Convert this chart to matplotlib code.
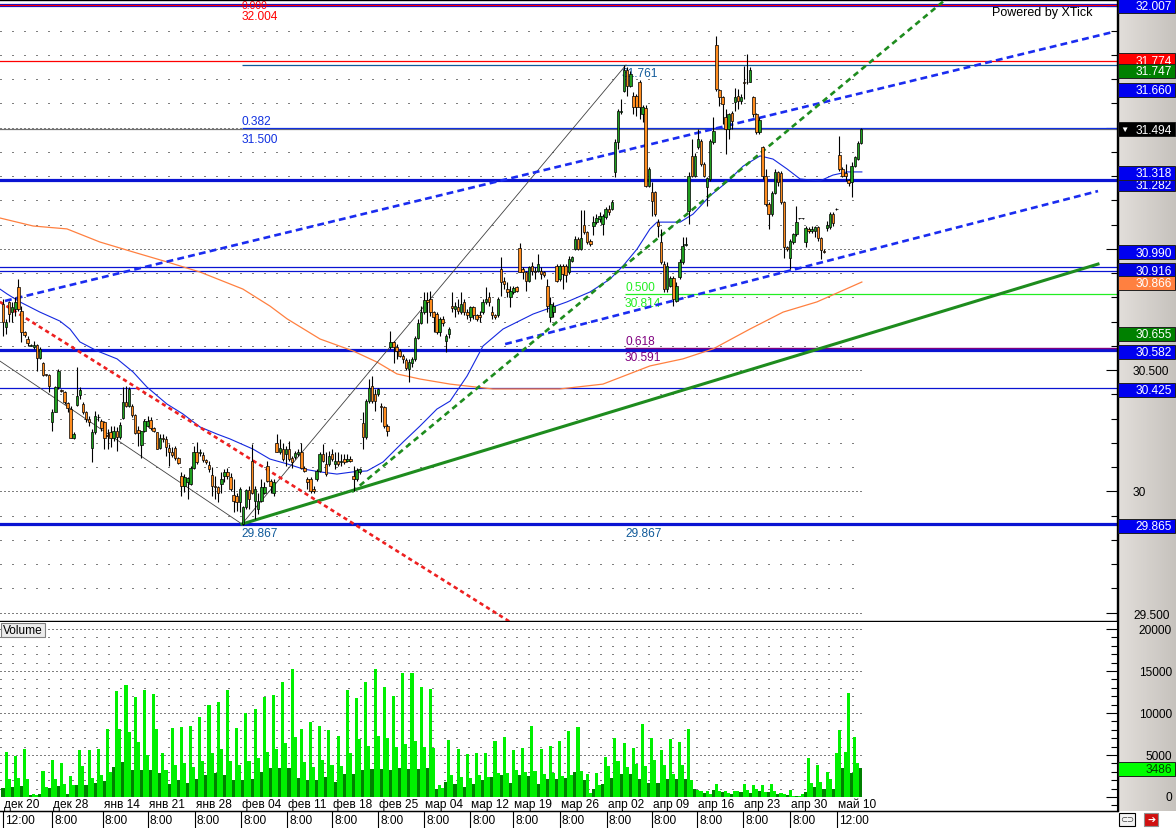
import matplotlib
matplotlib.use("Agg")
import matplotlib.pyplot as plt
from matplotlib.patches import Rectangle
from matplotlib.ticker import MultipleLocator
import numpy as np

plt.rcParams["font.family"] = ["Liberation Sans", "DejaVu Sans"]

# ---------------- data ----------------
opens = [
    30.773, 30.676, 30.780, 30.738, 30.752, 30.841, 30.745, 30.656, 30.630, 30.601,
    30.594, 30.603, 30.548, 30.528, 30.482, 30.480, 30.284, 30.329, 30.429, 30.417,
    30.408, 30.363, 30.340, 30.219, 30.356, 30.397, 30.360, 30.326, 30.298, 30.177,
    30.243, 30.307, 30.290, 30.284, 30.232, 30.243, 30.219, 30.250, 30.223, 30.301,
    30.367, 30.353, 30.353, 30.315, 30.254, 30.191, 30.247, 30.271, 30.295, 30.260,
    30.243, 30.177, 30.221, 30.216, 30.177, 30.160, 30.177, 30.136, 30.064, 30.023,
    30.037, 30.030, 30.095, 30.164, 30.158, 30.150, 30.131, 30.110, 30.067, 30.023,
    30.016, 30.030, 30.062, 30.081, 30.060,
    29.984, 29.982, 29.957, 29.865, 29.936, 30.006, 30.126, 29.961, 29.927, 29.961,
    29.995, 30.105, 30.043, 29.995, 30.201, 30.160, 30.174, 30.153, 30.174, 30.136,
    30.140, 30.152, 30.160, 30.098, 30.050, 30.050, 30.009, 30.050, 30.085, 30.153,
    30.112, 30.112, 30.153, 30.112, 30.126, 30.119, 30.133, 30.126, 30.135, 30.064,
    30.050, 30.078, 30.281, 30.222, 30.373, 30.435, 30.401, 30.401, 30.353, 30.346,
    30.270,
    30.593, 30.614, 30.593, 30.579, 30.559, 30.540, 30.504, 30.531, 30.545, 30.634,
    30.696, 30.738, 30.790, 30.793, 30.738, 30.731, 30.655, 30.710, 30.621, 30.648,
    30.766, 30.752, 30.759, 30.738, 30.780, 30.738, 30.718, 30.759, 30.725, 30.725,
    30.738, 30.780, 30.800, 30.738, 30.725, 30.725, 30.917, 30.869, 30.835, 30.800,
    30.821, 30.841, 31.002, 30.917, 30.903, 30.869, 30.931, 30.910, 30.910, 30.910,
    30.903, 30.848, 30.718, 30.738, 30.931, 30.876, 30.931, 30.931, 30.903, 30.951,
    30.999, 31.041, 30.999, 31.098, 31.068, 31.034, 31.096, 31.109, 31.123, 31.102,
    31.130, 31.164, 31.164, 31.316, 31.439, 31.563, 31.652, 31.739, 31.673, 31.632,
    31.632, 31.687, 31.556, 31.580, 31.261, 31.233, 31.233, 31.109,
    31.026, 30.937, 30.834, 30.848, 30.878, 30.786, 30.882, 30.944, 31.015, 31.157,
    31.384, 31.301, 31.418, 31.446, 31.349, 31.253, 31.287, 31.441, 31.840, 31.656,
    31.624, 31.542, 31.496, 31.562, 31.606, 31.631, 31.610, 31.686, 31.686, 31.689,
    31.624, 31.555, 31.480, 31.418, 31.301, 31.184, 31.143, 31.232, 31.315, 31.312,
    31.191, 31.006, 30.964, 31.026, 31.061, 31.126, 31.127, 31.026, 31.081, 31.074,
    31.074, 31.088, 31.043, 30.992, 31.084, 31.088, 31.143, 31.165, 31.386, 31.329,
    31.312, 31.285, 31.274, 31.342, 31.370, 31.436,
]
highs = [
    30.793, 30.711, 30.786, 30.780, 30.800, 30.876, 30.766, 30.663, 30.640, 30.607,
    30.621, 30.608, 30.594, 30.532, 30.484, 30.482, 30.340, 30.436, 30.505, 30.420,
    30.412, 30.370, 30.353, 30.243, 30.511, 30.429, 30.367, 30.333, 30.312, 30.257,
    30.333, 30.320, 30.300, 30.291, 30.257, 30.271, 30.271, 30.264, 30.284, 30.429,
    30.436, 30.429, 30.360, 30.319, 30.271, 30.250, 30.298, 30.312, 30.305, 30.264,
    30.246, 30.236, 30.236, 30.230, 30.195, 30.181, 30.188, 30.140, 30.078, 30.071,
    30.058, 30.106, 30.188, 30.202, 30.174, 30.161, 30.133, 30.125, 30.099, 30.064,
    30.023, 30.078, 30.092, 30.095, 30.075,
    30.050, 29.995, 30.016, 29.940, 30.009, 30.023, 30.197, 30.023, 29.995, 30.050,
    30.037, 30.126, 30.050, 30.050, 30.236, 30.215, 30.201, 30.188, 30.208, 30.146,
    30.167, 30.174, 30.201, 30.105, 30.057, 30.057, 30.023, 30.092, 30.160, 30.194,
    30.160, 30.167, 30.174, 30.160, 30.160, 30.153, 30.153, 30.153, 30.146, 30.105,
    30.098, 30.098, 30.325, 30.380, 30.463, 30.476, 30.421, 30.428, 30.366, 30.353,
    30.277,
    30.662, 30.621, 30.607, 30.586, 30.566, 30.548, 30.545, 30.552, 30.641, 30.710,
    30.765, 30.820, 30.820, 30.827, 30.744, 30.738, 30.717, 30.724, 30.648, 30.676,
    30.821, 30.780, 30.793, 30.821, 30.793, 30.752, 30.766, 30.766, 30.731, 30.745,
    30.793, 30.841, 30.821, 30.766, 30.731, 30.800, 30.965, 30.883, 30.862, 30.848,
    30.848, 30.848, 31.024, 30.924, 30.910, 30.931, 30.945, 30.924, 30.979, 30.924,
    30.910, 30.876, 30.800, 30.780, 30.938, 30.938, 30.938, 30.938, 30.972, 30.972,
    31.054, 31.048, 31.158, 31.158, 31.075, 31.041, 31.137, 31.144, 31.151, 31.144,
    31.171, 31.180, 31.203, 31.453, 31.577, 31.618, 31.756, 31.749, 31.735, 31.645,
    31.639, 31.694, 31.591, 31.591, 31.336, 31.274, 31.240, 31.123,
    31.081, 30.951, 30.944, 30.889, 30.889, 30.862, 30.958, 31.047, 31.047, 31.315,
    31.452, 31.397, 31.494, 31.452, 31.356, 31.294, 31.452, 31.542, 31.876, 31.661,
    31.631, 31.576, 31.562, 31.569, 31.665, 31.659, 31.638, 31.755, 31.803, 31.748,
    31.631, 31.562, 31.542, 31.425, 31.329, 31.191, 31.239, 31.329, 31.322, 31.322,
    31.198, 31.013, 31.040, 31.067, 31.177, 31.128, 31.129, 31.095, 31.088, 31.095,
    31.095, 31.095, 31.047, 30.999, 31.115, 31.150, 31.150, 31.167, 31.466, 31.336,
    31.349, 31.288, 31.356, 31.384, 31.446, 31.497,
]
lows = [
    30.642, 30.649, 30.697, 30.697, 30.724, 30.745, 30.614, 30.635, 30.600, 30.598,
    30.587, 30.498, 30.546, 30.477, 30.474, 30.411, 30.250, 30.326, 30.422, 30.410,
    30.360, 30.326, 30.218, 30.216, 30.353, 30.381, 30.319, 30.285, 30.271, 30.122,
    30.236, 30.290, 30.250, 30.175, 30.175, 30.181, 30.209, 30.167, 30.216, 30.298,
    30.346, 30.346, 30.305, 30.236, 30.188, 30.136, 30.243, 30.264, 30.254, 30.243,
    30.174, 30.174, 30.202, 30.147, 30.106, 30.140, 30.130, 30.112, 29.982, 29.996,
    29.968, 30.026, 30.092, 30.112, 30.147, 30.120, 30.113, 30.080, 29.982, 29.968,
    29.955, 29.992, 30.037, 30.050, 30.000,
    29.913, 29.920, 29.913, 29.862, 29.927, 29.927, 29.988, 29.885, 29.906, 29.954,
    29.988, 30.039, 29.995, 29.982, 30.160, 30.153, 30.126, 30.105, 30.126, 30.098,
    30.133, 30.146, 30.092, 30.078, 30.009, 29.995, 29.995, 30.043, 30.078, 30.119,
    30.064, 30.105, 30.126, 30.092, 30.105, 30.105, 30.112, 30.119, 30.119, 30.002,
    30.043, 30.071, 30.174, 30.215, 30.366, 30.366, 30.332, 30.394, 30.284, 30.263,
    30.229,
    30.586, 30.531, 30.545, 30.552, 30.531, 30.500, 30.449, 30.511, 30.538, 30.627,
    30.689, 30.731, 30.696, 30.724, 30.655, 30.648, 30.641, 30.683, 30.573, 30.634,
    30.738, 30.718, 30.731, 30.731, 30.725, 30.711, 30.704, 30.711, 30.704, 30.700,
    30.731, 30.773, 30.766, 30.711, 30.711, 30.718, 30.807, 30.835, 30.800, 30.759,
    30.814, 30.821, 30.903, 30.876, 30.828, 30.862, 30.890, 30.876, 30.903, 30.876,
    30.883, 30.738, 30.697, 30.718, 30.862, 30.869, 30.835, 30.862, 30.896, 30.944,
    30.993, 30.993, 30.997, 31.061, 31.020, 31.013, 31.055, 31.102, 31.109, 31.055,
    31.123, 31.140, 31.161, 31.295, 31.412, 31.556, 31.645, 31.632, 31.666, 31.556,
    31.549, 31.536, 31.522, 31.254, 31.254, 31.137, 31.137, 31.048,
    30.937, 30.820, 30.820, 30.841, 30.765, 30.779, 30.875, 30.937, 31.010, 31.102,
    31.294, 31.294, 31.411, 31.342, 31.294, 31.177, 31.281, 31.432, 31.652, 31.590,
    31.514, 31.391, 31.453, 31.494, 31.569, 31.576, 31.597, 31.617, 31.679, 31.686,
    31.542, 31.473, 31.473, 31.287, 31.177, 31.081, 31.136, 31.226, 31.260, 31.184,
    30.964, 30.992, 30.916, 31.019, 31.054, 31.123, 31.124, 31.006, 31.067, 31.067,
    31.047, 31.033, 30.958, 30.982, 31.074, 31.081, 31.095, 31.161, 31.322, 31.294,
    31.281, 31.260, 31.212, 31.336, 31.368, 31.432,
]
closes = [
    30.697, 30.697, 30.731, 30.759, 30.780, 30.752, 30.656, 30.645, 30.612, 30.603,
    30.603, 30.548, 30.587, 30.480, 30.480, 30.433, 30.329, 30.429, 30.498, 30.415,
    30.370, 30.342, 30.219, 30.236, 30.394, 30.419, 30.326, 30.298, 30.284, 30.243,
    30.312, 30.305, 30.260, 30.219, 30.229, 30.219, 30.250, 30.223, 30.273, 30.367,
    30.353, 30.422, 30.315, 30.240, 30.240, 30.247, 30.291, 30.291, 30.260, 30.250,
    30.174, 30.219, 30.216, 30.181, 30.161, 30.150, 30.136, 30.117, 30.023, 30.058,
    30.054, 30.095, 30.164, 30.122, 30.164, 30.131, 30.120, 30.090, 30.023, 30.016,
    29.993, 30.051, 30.081, 30.064, 30.010,
    29.961, 29.957, 30.009, 29.936, 30.006, 29.968, 29.995, 30.009, 29.961, 30.016,
    30.016, 30.043, 30.023, 30.037, 30.163, 30.177, 30.133, 30.174, 30.133, 30.119,
    30.157, 30.160, 30.098, 30.085, 30.037, 30.002, 30.002, 30.085, 30.153, 30.126,
    30.071, 30.146, 30.133, 30.126, 30.112, 30.126, 30.122, 30.135, 30.126, 30.050,
    30.089, 30.092, 30.222, 30.373, 30.428, 30.373, 30.373, 30.421, 30.346, 30.270,
    30.250,
    30.614, 30.593, 30.579, 30.559, 30.545, 30.510, 30.534, 30.545, 30.634, 30.696,
    30.738, 30.788, 30.779, 30.738, 30.717, 30.655, 30.710, 30.696, 30.641, 30.669,
    30.755, 30.766, 30.745, 30.773, 30.738, 30.725, 30.759, 30.725, 30.711, 30.718,
    30.780, 30.793, 30.779, 30.725, 30.718, 30.793, 30.862, 30.855, 30.821, 30.828,
    30.837, 30.824, 30.906, 30.906, 30.869, 30.924, 30.910, 30.903, 30.938, 30.896,
    30.890, 30.766, 30.773, 30.766, 30.869, 30.931, 30.896, 30.890, 30.958, 30.965,
    31.041, 30.999, 31.043, 31.068, 31.027, 31.020, 31.112, 31.126, 31.137, 31.137,
    31.164, 31.150, 31.195, 31.439, 31.567, 31.570, 31.739, 31.673, 31.721, 31.584,
    31.584, 31.584, 31.584, 31.261, 31.329, 31.199, 31.144, 31.096,
    30.944, 30.834, 30.930, 30.878, 30.793, 30.848, 30.944, 31.013, 31.019, 31.301,
    31.301, 31.384, 31.452, 31.349, 31.301, 31.290, 31.446, 31.487, 31.659, 31.624,
    31.597, 31.496, 31.555, 31.528, 31.624, 31.610, 31.624, 31.683, 31.689, 31.738,
    31.555, 31.480, 31.532, 31.301, 31.184, 31.143, 31.232, 31.315, 31.274, 31.191,
    31.006, 30.999, 31.033, 31.061, 31.112, 31.125, 31.126, 31.084, 31.074, 31.081,
    31.088, 31.043, 30.996, 30.985, 31.098, 31.143, 31.106, 31.163, 31.329, 31.301,
    31.301, 31.271, 31.342, 31.377, 31.436, 31.494,
]

# volume, one value per bar
volume = [
    1100, 5400, 2200, 1150, 4840, 2300, 1300, 5720, 2200, 250, 400, 200,
    300, 3140, 1200, 1100, 4400, 2200, 1300, 4050, 1600, 350, 2500, 1400,
    1400, 5600, 3700, 1400, 5600, 2300, 1700, 5720, 2600, 1900, 8100, 3000,
    3600, 12660, 8100, 4200, 13340, 7700, 3200, 11870, 6500, 3200, 12740, 5000,
    3200, 12270, 8100, 2800, 5240, 3200, 1500, 8220, 3800, 2000, 8380, 4000,
    1700, 8420, 3600, 2200, 9490, 4300, 2600, 10960, 5200, 2800, 11270, 5700,
    2600, 12740, 4300, 2000, 8220, 3800, 2000, 9960, 4300, 2200, 10480, 4600,
    3000, 11950, 5400, 3400, 12150, 5700, 3400, 13740, 6400, 3400, 15240, 7200,
    2300, 8100, 4200, 2000, 8890, 3600, 2000, 8420, 4400, 2400, 7980, 3800,
    1800, 7230, 3700, 2700, 12740, 5200, 2700, 11790, 6900, 3200, 13740, 6100,
    3300, 15240, 7300, 3300, 13140, 7000, 3200, 11990, 6000, 3500, 14770, 6300,
    3300, 14770, 6700, 3300, 13060, 6000, 3400, 12860, 5800, 1000, 1470, 1100,
    1800, 6790, 2600, 1500, 5720, 2400, 1200, 5120, 2300, 1500, 5240, 2600,
    2000, 5240, 2400, 2400, 6630, 2800, 2600, 7150, 2900, 1700, 5600, 3200,
    2600, 5840, 3000, 2500, 8460, 3100, 1600, 5720, 2700, 2100, 6070, 2800,
    2200, 6670, 2500, 2300, 7860, 2600, 3000, 8340, 3100, 2000, 2740, 500,
    900, 2860, 1400, 1500, 4760, 3700, 2300, 7030, 4300, 2700, 6430, 3600,
    2700, 5840, 3900, 2100, 8690, 3700, 1700, 7030, 4400, 1700, 5600, 3800,
    2100, 6910, 2700, 2100, 6550, 3800, 2200, 8100, 2000, 900, 830, 700,
    500, 670, 400, 800, 1550, 700, 600, 750, 500, 400, 670, 700,
    600, 1550, 800, 500, 1470, 900, 700, 1470, 600, 600, 1550, 700,
    400, 480, 300, 200, 790, 100, 100, 150, 400, 600, 4640, 1700,
    1200, 3850, 1800, 950, 3020, 2200, 950, 5280, 7980, 3450, 5360, 12390,
    2900, 7190, 4000, 3486,
]

# moving averages as drawn on the chart: (bar, price)
fast_ma_bar = [-1.0, 1.3, 5.5, 12.0, 18.5, 21.8, 25.0, 30.6, 37.1, 42.3, 46.8, 53.3,
               58.5, 64.1, 69.6, 73.8, 81.3, 86.8, 92.4, 97.6, 103.1, 108.6, 113.8,
               118.4, 123.6, 130.1, 135.6, 141.1, 145.4, 150.9, 156.1, 162.6, 172.4,
               183.4, 190.9, 197.4, 201.6, 206.2, 210.4, 212.7, 220.2, 224.4, 229.9,
               235.4, 240.7, 246.2, 250.4, 255.0, 259.2, 265.7, 269.9, 274.5, 279.3]
fast_ma_price = [30.834, 30.814, 30.781, 30.739, 30.702, 30.669, 30.616, 30.579, 30.546,
                 30.492, 30.430, 30.360, 30.319, 30.265, 30.236, 30.216, 30.174, 30.133,
                 30.113, 30.092, 30.080, 30.071, 30.080, 30.084, 30.121, 30.203, 30.269,
                 30.339, 30.372, 30.475, 30.599, 30.669, 30.731, 30.781, 30.822, 30.875,
                 30.929, 30.999, 31.082, 31.110, 31.110, 31.143, 31.218, 31.275, 31.341,
                 31.383, 31.370, 31.329, 31.288, 31.280, 31.304, 31.317, 31.317]
slow_ma_bar = [-1.0, 9.8, 20.8, 31.5, 42.3, 53.3, 64.1, 78.0, 86.8, 92.4, 103.1, 113.8,
               121.6, 128.1, 135.6, 145.4, 159.3, 181.1, 195.1, 210.4, 221.1, 230.9,
               242.9, 253.7, 264.7, 279.3]
slow_ma_price = [31.127, 31.094, 31.082, 31.028, 30.987, 30.946, 30.904, 30.834, 30.764,
                 30.711, 30.628, 30.579, 30.533, 30.484, 30.463, 30.442, 30.422, 30.422,
                 30.442, 30.517, 30.546, 30.587, 30.669, 30.739, 30.781, 30.863]

# drawn trend lines: (bar, price) end points
upper_channel = ([0.65, 361.0], [30.785, 31.894])
lower_channel = ([163.3, 356.1], [30.607, 31.238])
green_dashed = ([113.5, 311.2], [29.997, 32.077])
green_solid = ([77.7, 356.1], [29.865, 30.937])
red_dashed = ([-1.0, 168.1], [30.781, 29.436])
zigzag = ([-1.0, 77.7, 202.6], [30.537, 29.865, 31.758])

thick_levels = [32.007, 31.282, 30.582, 29.865]
thin_levels = [30.925, 30.908, 30.425]
red_levels = [32.004, 31.774]
last_price = 31.494
last_volume = 3486

fib1_bar = 77.7
fib2_bar = 202.3

week_bars = [0, 16, 32.5, 47, 62.4, 77.4, 92.4, 107, 122, 137, 152, 166, 181, 196.4,
             211, 225.7, 240.7, 256, 271.2]
week_dates = ["дек 20", "дек 28", "янв 14", "янв 21", "янв 28", "фев 04", "фев 11",
              "фев 18", "фев 25", "мар 04", "мар 12", "мар 19", "мар 26", "апр 02",
              "апр 09", "апр 16", "апр 23", "апр 30", "май 10"]
week_times = ["12:00"] + ["8:00"] * 17 + ["12:00"]

# ---------------- layout ----------------
W, H = 1176, 829
BAR0, BAR_PX = 3.0, 3.075
PANEL_R = 1117
PRICE_TOP, PRICE_BOT = 1, 622
VOL_TOP, VOL_BOT = 623, 812


def px_price(p):
    return 130 + (31.494 - p) * 242.5


def bar_px(b):
    return BAR0 + BAR_PX * b


FS = 8.6
BLUE = "#0a14d2"
fig = plt.figure(figsize=(W / 100, H / 100), dpi=100)

ax = fig.add_axes([0, 1 - PRICE_BOT / H, PANEL_R / W, (PRICE_BOT - PRICE_TOP) / H])
axv = fig.add_axes([0, 1 - VOL_BOT / H, PANEL_R / W, (VOL_BOT - VOL_TOP) / H])
xlim = ((0 - BAR0) / BAR_PX, (PANEL_R - BAR0) / BAR_PX)

n = len(closes)
x = np.arange(n)
o, h, l, c = map(np.array, (opens, highs, lows, closes))

# price panel
ax.set_xlim(*xlim)
ax.set_ylim(31.494 - (PRICE_BOT - 130) / 242.5, 31.494 + (130 - PRICE_TOP) / 242.5)
last_bar = n - 1 + 0.5
for p in np.arange(29.5, 32.05, 0.1):
    major = abs(p * 2 - round(p * 2)) < 1e-6
    ax.hlines(p, xlim[0], last_bar, colors="black", lw=0.72,
              linestyles=(0, (1, 3)) if major else (0, (1, 11)), zorder=1)

for p in thick_levels:
    ax.axhline(p, color=BLUE, lw=2.3, zorder=2)
for p in thin_levels:
    ax.axhline(p, color=BLUE, lw=0.9, zorder=2)
for p in red_levels:
    ax.axhline(p, color="#ff0000", lw=0.9, zorder=2)
ax.axhline(last_price, color="#707070", lw=0.9, zorder=2)
ax.hlines(31.500, fib1_bar, xlim[1], colors="#1030e0", lw=0.9, zorder=2)
ax.hlines(31.757, fib1_bar, xlim[1], colors="#105a9a", lw=0.9, zorder=2)
ax.hlines(30.814, fib2_bar, xlim[1], colors="#22ee22", lw=0.9, zorder=2)
ax.hlines(30.591, fib2_bar, xlim[1], colors="#800080", lw=1.0, zorder=2)

ax.plot(slow_ma_bar, slow_ma_price, color="#ff8040", lw=0.9, zorder=3)
ax.plot(fast_ma_bar, fast_ma_price, color="#1428e0", lw=0.8, zorder=3)
ax.plot(*zigzag, color="#404040", lw=0.6, zorder=3)
ax.plot(*green_solid, color="#1e8c1e", lw=2.2, zorder=3)
ax.plot(*upper_channel, color="#1a2cf0", lw=1.9, ls=(0, (2.6, 1.6)), zorder=3)
ax.plot(*lower_channel, color="#1a2cf0", lw=1.9, ls=(0, (2.6, 1.6)), zorder=3)
ax.plot(*green_dashed, color="#1e8c1e", lw=1.9, ls=(0, (2.2, 1.6)), zorder=3)
ax.plot(*red_dashed, color="#ee2020", lw=1.9, ls=(0, (1.6, 1.3)), zorder=3)

# fibonacci captions
tk = dict(fontsize=FS, zorder=2.5)
ax.text(fib1_bar, 32.026, "0.000", color="#ff0000", va="top", fontsize=7.5, zorder=2.5)
ax.text(fib1_bar, 31.985, "32.004", color="#ff0000", va="top", **tk)
ax.text(fib1_bar, 31.503, "0.382", color="#1030e0", va="bottom", **tk)
ax.text(fib1_bar, 31.479, "31.500", color="#1030e0", va="top", **tk)
ax.text(fib1_bar, 29.853, "29.867", color="#105a9a", va="top", **tk)
ax.text(fib2_bar, 29.853, "29.867", color="#105a9a", va="top", **tk)
ax.text(fib2_bar - 1, 31.751, "31.761", color="#105a9a", va="top", **tk)
ax.text(fib2_bar, 30.817, "0.500", color="#22ee22", va="bottom", **tk)
ax.text(fib2_bar, 30.800, "30.814", color="#22ee22", va="top", **tk)
ax.text(fib2_bar, 30.594, "0.618", color="#800080", va="bottom", **tk)
ax.text(fib2_bar, 30.578, "30.591", color="#800080", va="top", **tk)

# candles
body_lo = np.minimum(o, c)
body_h = np.maximum(np.abs(c - o), 0.0015)
ax.vlines(x, np.minimum(l, body_lo), np.maximum(h, np.maximum(o, c)),
          colors="black", lw=0.8, zorder=4)
ax.bar(x, body_h, 0.8, bottom=body_lo,
       color=np.where(c >= o, "#1e9e1e", "#ff8c1e"),
       edgecolor="black", linewidth=0.5, zorder=5)

ax.yaxis.set_ticks_position("right")
ax.yaxis.set_major_locator(MultipleLocator(0.5))
ax.yaxis.set_minor_locator(MultipleLocator(0.1))
ax.tick_params(axis="y", which="major", direction="in", length=8, width=0.8, labelright=False)
ax.tick_params(axis="y", which="minor", direction="in", length=4, width=0.8)
ax.set_xticks([])
ax.spines["left"].set_visible(False)
for s in ("top", "right", "bottom"):
    ax.spines[s].set_linewidth(1.0)

# volume panel
axv.set_xlim(*xlim)
axv.set_ylim(-(VOL_BOT - 798) * 119.05, (798 - VOL_TOP) * 119.05)
for v in range(1000, 20001, 1000):
    axv.hlines(v, xlim[0], last_bar, colors="black", lw=0.72,
               linestyles=(0, (1, 3)) if v % 5000 == 0 else (0, (1, 11)), zorder=1)
vol = np.array(volume)
axv.bar(x, vol, 1.0, color=np.where(x % 3 == 0, "#008000", "#00f000"),
        linewidth=0, zorder=2)
axv.yaxis.set_ticks_position("right")
axv.yaxis.set_major_locator(MultipleLocator(5000))
axv.yaxis.set_minor_locator(MultipleLocator(1000))
axv.tick_params(axis="y", which="major", direction="in", length=8, width=0.8, labelright=False)
axv.tick_params(axis="y", which="minor", direction="in", length=4, width=0.8)
axv.set_xticks([])
axv.spines["left"].set_visible(False)
axv.spines["top"].set_visible(False)

# overlay in pixel coordinates: right scale, captions, time axis
ov = fig.add_axes([0, 0, 1, 1], zorder=10)
ov.patch.set_alpha(0)
ov.axis("off")
grad = np.linspace(0, 1, 64)[None, :]
ov.imshow(grad, cmap=matplotlib.colors.LinearSegmentedColormap.from_list(
    "g", ["#e2deda", "#c6c2bd"]), extent=(PANEL_R + 0.5, W, VOL_BOT, 0), aspect="auto", zorder=0)
ov.set_xlim(0, W)
ov.set_ylim(H, 0)
ov.plot([PANEL_R + 0.5, PANEL_R + 0.5], [0, VOL_BOT], color="black", lw=1.0)

_z = [3.0]


def box(cy, text, face, fg="white"):
    # each later box sits on top of the earlier ones, text included
    z = _z[0]
    _z[0] += 0.1
    ov.add_patch(Rectangle((PANEL_R + 1, cy - 7), W - PANEL_R - 2, 14,
                           facecolor=face, edgecolor="#202020", lw=0.7, zorder=z))
    ov.text(W - 4, cy + 0.5, text, ha="right", va="center", color=fg, fontsize=FS,
            zorder=z + 0.05, clip_on=True,
            clip_path=None)


def plain(cy, text):
    ov.text(W - 4, cy + 0.5, text, ha="right", va="center", color="black", fontsize=FS)


ov.text(PANEL_R + 16, px_price(30.0) + 1, "30", va="center", fontsize=FS)
ov.text(PANEL_R + 16, px_price(30.5) + 1, "30.500", va="center", fontsize=FS)
ov.text(PANEL_R + 16, px_price(29.5) + 2, "29.500", va="center", fontsize=FS)
for v, lab in ((20000, "20000"), (15000, "15000"), (10000, "10000"), (5000, "5000"), (0, "0")):
    plain(798 - v / 119.05, lab)

box(px_price(32.007) + 1, "32.007", "#0000f0")
box(px_price(31.774) - 1, "31.774", "#ff0000")
box(px_price(31.747) + 3, "31.747", "#008000")
box(px_price(31.660) + 1, "31.660", "#0000f0")
box(px_price(31.282) + 4, "31.282", "#0000e0")
box(px_price(31.318) + 1, "31.318", "#0000f0")
box(px_price(30.916) + 1, "30.916", "#0000e0")
box(px_price(30.990) + 1, "30.990", "#0000f0")
box(px_price(30.866) + 1.5, "30.866", "#ff8040")
box(px_price(30.655) + 1.5, "30.655", "#008000")
box(px_price(30.582) + 1.5, "30.582", "#0000f0")
box(px_price(30.425) + 1.5, "30.425", "#0000f0")
box(px_price(29.865) + 1.5, "29.865", "#0000f0")
box(px_price(last_price), "31.494", "black")
ov.text(PANEL_R + 3, px_price(last_price) + 0.5, "▼", color="white", fontsize=6,
        va="center", zorder=9)
box(798 - last_volume / 119.05 + 1, str(last_volume), "#00ff00", fg="#004000")

ov.text(992, 13, "Powered by XTick", fontsize=9, va="center")

# volume caption button
ov.add_patch(Rectangle((1, 624), 44, 14, facecolor="#ececec", edgecolor="#808080", lw=0.8))
ov.text(3, 631.5, "Volume", fontsize=FS, va="center")

# time axis
ov.plot([0, PANEL_R], [VOL_BOT, VOL_BOT], color="black", lw=1.0)
for b, d, t in zip(week_bars, week_dates, week_times):
    xp = bar_px(b)
    ov.text(xp + 1, 805, d, fontsize=FS, va="center")
    ov.plot([xp, xp], [VOL_BOT + 1, H], color="black", lw=0.8)
    ov.text(xp + 2, 821, t, fontsize=FS, va="center")

# little toolbar icons bottom right
ov.add_patch(Rectangle((1119, 814), 16, 13, facecolor="#f4f4f4", edgecolor="black", lw=0.8))
ov.text(1127, 820.5, "⊂⊃", fontsize=6, ha="center", va="center", color="#404040")
ov.add_patch(Rectangle((1144, 814), 14, 13, facecolor="#d01010", edgecolor="#909090", lw=0.8))
ov.text(1151, 820.5, "➔", fontsize=7, ha="center", va="center", color="white")

fig.savefig("out.png", dpi=100)
